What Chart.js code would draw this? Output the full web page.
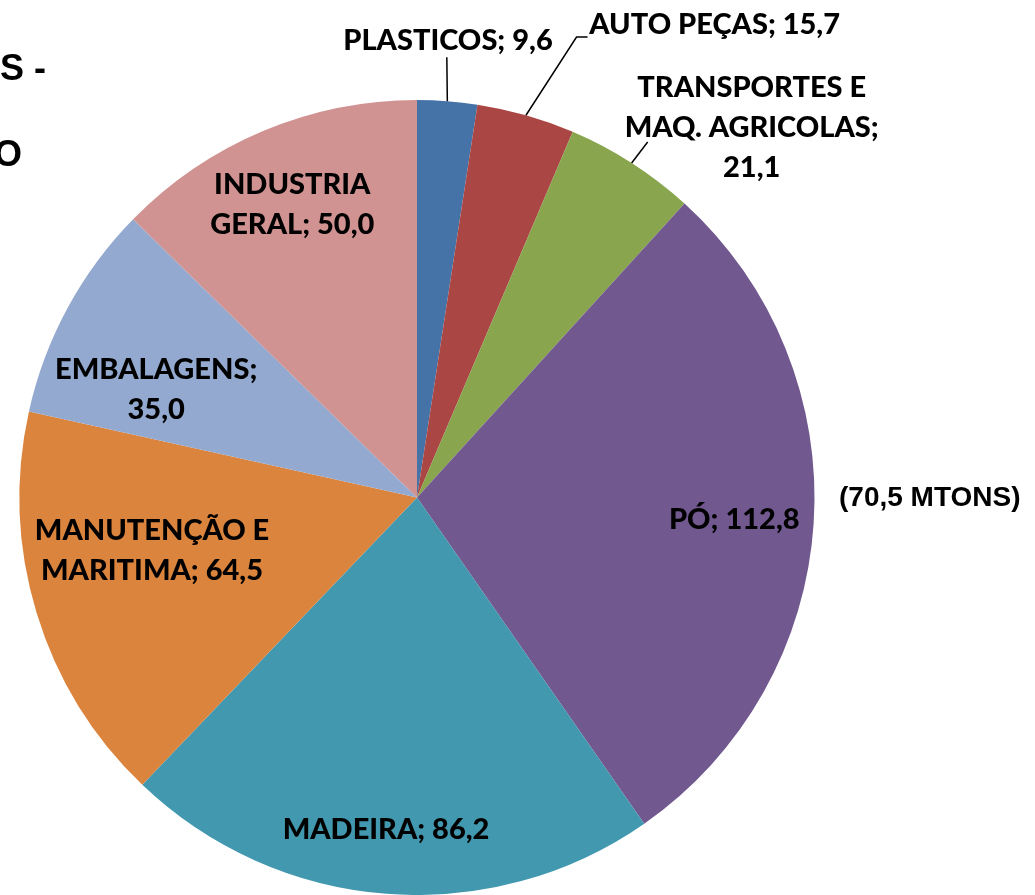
<!DOCTYPE html>
<html>
<head>
<meta charset="utf-8">
<script src="https://cdn.jsdelivr.net/npm/chart.js@4.4.1/dist/chart.umd.min.js"></script>
<style>
  html, body { margin: 0; padding: 0; background: #fff; }
  #wrap { width: 1035px; height: 895px; position: relative; }
</style>
</head>
<body>
<div id="wrap"><canvas id="pie" width="1035" height="895"></canvas></div>
<script>
// categories and values (MTONS)
const categories = ['PLASTICOS', 'AUTO PEÇAS', 'TRANSPORTES E\nMAQ. AGRICOLAS', 'PÓ', 'MADEIRA',
                    'MANUTENÇÃO E\nMARITIMA', 'EMBALAGENS', 'INDUSTRIA\nGERAL'];
const values = [9.6, 15.7, 21.1, 112.8, 86.2, 64.5, 35.0, 50.0];
const colors = ['#4572A7', '#AA4643', '#89A54E', '#71588F', '#4198AF', '#DB843D', '#93A9CF', '#D19392'];

// label layout: angle offset from slice middle (deg), distance as fraction of radius,
// value on its own line, optional leader line
const labelLayout = [
    { da: -0.5, f: 1.153, newLine: false, leader: [[-0.5, 1.11]] },
    { da: 16.3, f: 1.405, newLine: false, leader: [[3.2, 1.226]], tail: 11 },
    { da: 9.5,  f: 1.254, newLine: true,  leader: [[0.3, 1.066]] },
    { da: 0.3,  f: 0.80,  newLine: false },
    { da: 0.9,  f: 0.84,  newLine: false },
    { da: 5.5,  f: 0.68,  newLine: false },
    { da: -6,   f: 0.71,  newLine: true },
    { da: -0.3, f: 0.80,  newLine: false }
];

const labelFont = '900 29px Lato, "DejaVu Sans", sans-serif';
const lineHeight = 40;

function fmt(v) {
    return v.toFixed(1).replace('.', ',');
}

const sliceLabels = {
    id: 'sliceLabels',
    afterDatasetsDraw(chart) {
        const ctx = chart.ctx;
        const arcs = chart.getDatasetMeta(0).data;
        ctx.save();
        ctx.font = labelFont;
        ctx.fillStyle = '#000';
        ctx.strokeStyle = '#000';
        ctx.lineWidth = 1.5;
        ctx.textAlign = 'center';
        ctx.textBaseline = 'middle';
        arcs.forEach((arc, i) => {
            const lay = labelLayout[i];
            const mid = (arc.startAngle + arc.endAngle) / 2;
            const r = arc.outerRadius;
            const pt = (a, f) => [arc.x + Math.cos(a) * r * f, arc.y + Math.sin(a) * r * f];

            if (lay.leader) {
                ctx.beginPath();
                let p = pt(mid, 1);
                ctx.moveTo(p[0], p[1]);
                lay.leader.forEach(l => {
                    p = pt(mid + l[0] * Math.PI / 180, l[1]);
                    ctx.lineTo(p[0], p[1]);
                });
                if (lay.tail) ctx.lineTo(p[0] + lay.tail, p[1]);
                ctx.stroke();
            }

            const name = categories[i];
            const text = name + ';' + (lay.newLine ? '\n' : ' ') + fmt(values[i]);
            const lines = text.split('\n');
            const c = pt(mid + lay.da * Math.PI / 180, lay.f);
            const y0 = c[1] - (lines.length - 1) * lineHeight / 2;
            lines.forEach((ln, k) => ctx.fillText(ln, c[0], y0 + k * lineHeight));
        });

        // side texts
        ctx.font = 'bold 28px "Liberation Sans", Arial, sans-serif';
        ctx.textAlign = 'left';
        ctx.fillText('(70,5 MTONS)', 839, 498);
        ctx.font = 'bold 36px "Liberation Sans", Arial, sans-serif';
        ctx.textAlign = 'right';
        ctx.fillText('S -', 46, 70);
        ctx.fillText('O', 22, 156);
        ctx.restore();
    }
};

new Chart(document.getElementById('pie'), {
    type: 'pie',
    data: {
        labels: categories,
        datasets: [{
            data: values,
            backgroundColor: colors,
            borderWidth: 0
        }]
    },
    options: {
        responsive: false,
        animation: false,
        layout: { padding: { top: 100, bottom: 0, left: 19, right: 220 } },
        plugins: {
            legend: { display: false },
            tooltip: { enabled: false }
        }
    },
    plugins: [sliceLabels]
});
</script>
</body>
</html>
